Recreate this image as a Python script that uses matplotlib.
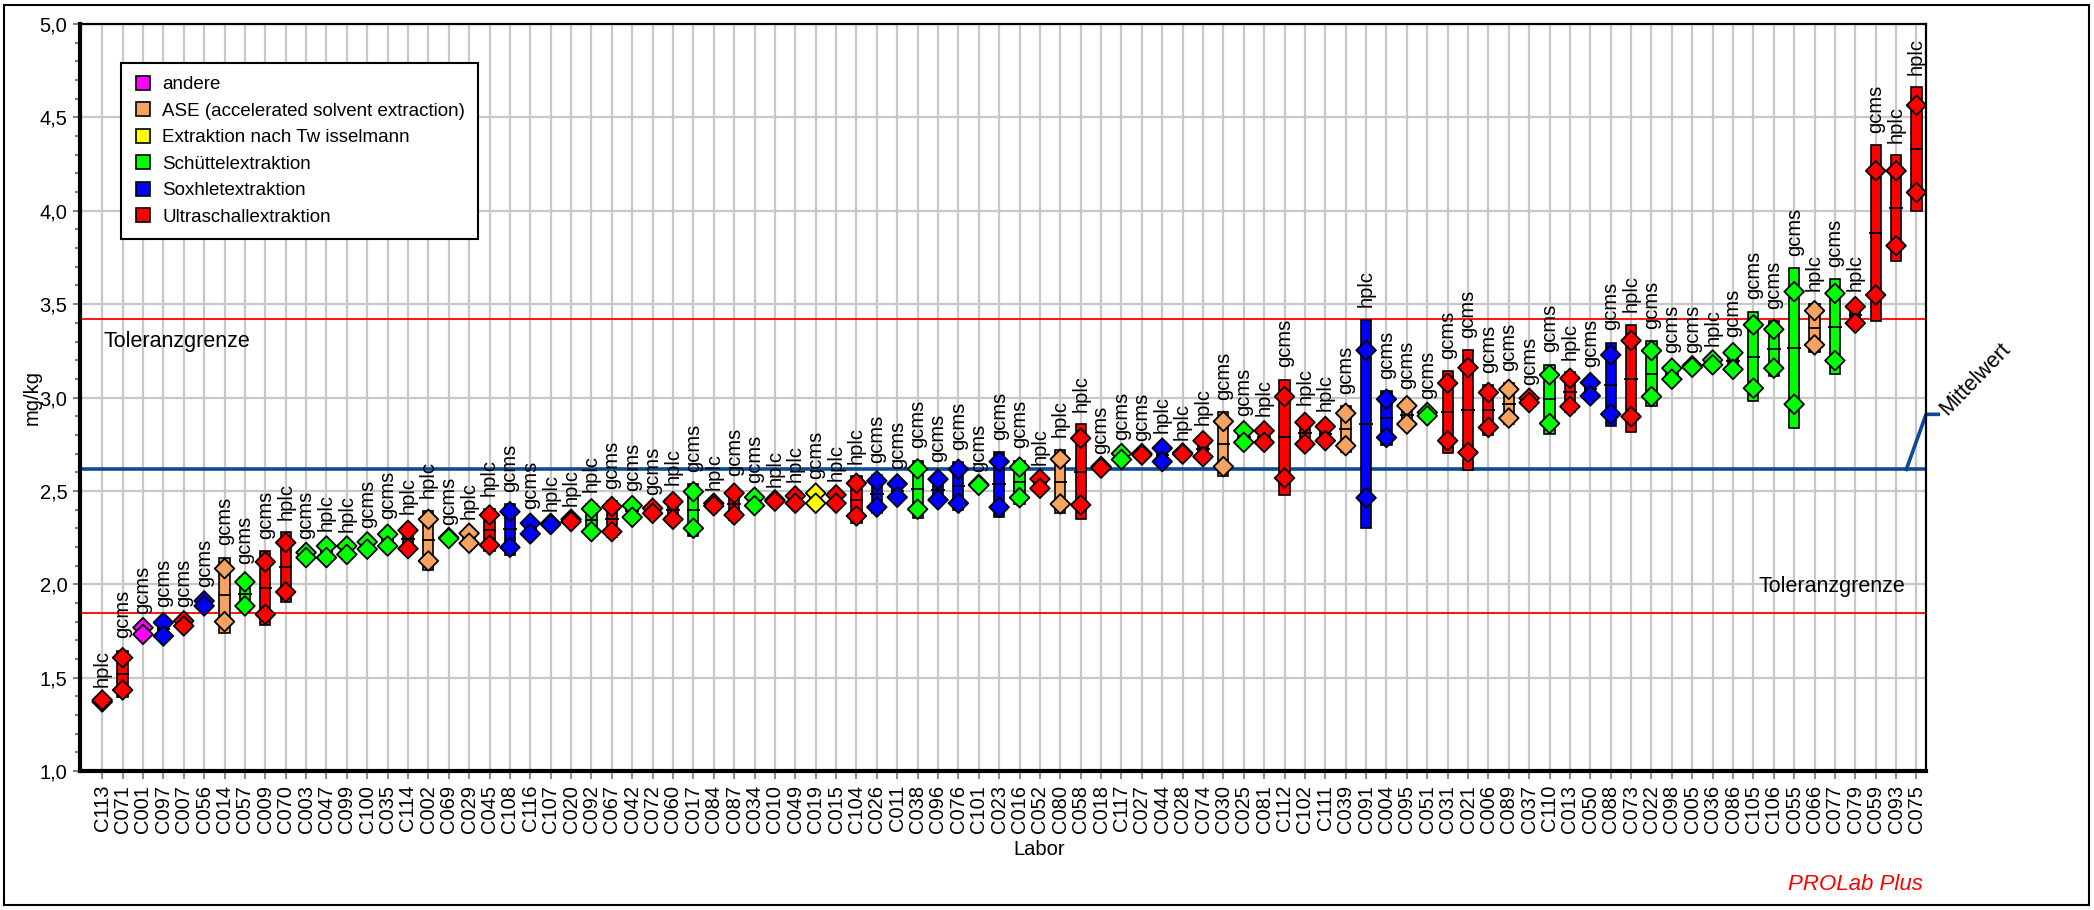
import matplotlib
matplotlib.use('Agg')
import matplotlib.pyplot as plt
import numpy as np
from matplotlib.lines import Line2D
from matplotlib.patches import Rectangle
from matplotlib.ticker import MultipleLocator, FuncFormatter

plt.rcParams['font.family'] = ['Liberation Sans', 'DejaVu Sans']

# Labs, sorted by their mean as in the report
labs = ['C113', 'C071', 'C001', 'C097', 'C007', 'C056', 'C014', 'C057', 'C009', 'C070',
        'C003', 'C047', 'C099', 'C100', 'C035', 'C114', 'C002', 'C069', 'C029', 'C045',
        'C108', 'C116', 'C107', 'C020', 'C092', 'C067', 'C042', 'C072', 'C060', 'C017',
        'C084', 'C087', 'C034', 'C010', 'C049', 'C019', 'C015', 'C104', 'C026', 'C011',
        'C038', 'C096', 'C076', 'C101', 'C023', 'C016', 'C052', 'C080', 'C058', 'C018',
        'C117', 'C027', 'C044', 'C028', 'C074', 'C030', 'C025', 'C081', 'C112', 'C102',
        'C111', 'C039', 'C091', 'C004', 'C095', 'C051', 'C031', 'C021', 'C006', 'C089',
        'C037', 'C110', 'C013', 'C050', 'C088', 'C073', 'C022', 'C098', 'C005', 'C036',
        'C086', 'C105', 'C106', 'C055', 'C066', 'C077', 'C079', 'C059', 'C093', 'C075']

# extraction method per lab
methods = ['US', 'US', 'and', 'Sox', 'US', 'Sox', 'ASE', 'Sch', 'US', 'US',
           'Sch', 'Sch', 'Sch', 'Sch', 'Sch', 'US', 'ASE', 'Sch', 'ASE', 'US',
           'Sox', 'Sox', 'Sox', 'US', 'Sch', 'US', 'Sch', 'US', 'US', 'Sch',
           'US', 'US', 'Sch', 'US', 'US', 'Tw', 'US', 'US', 'Sox', 'Sox',
           'Sch', 'Sox', 'Sox', 'Sch', 'Sox', 'Sch', 'US', 'ASE', 'US', 'US',
           'Sch', 'US', 'Sox', 'US', 'US', 'ASE', 'Sch', 'US', 'US', 'US',
           'US', 'ASE', 'Sox', 'Sox', 'ASE', 'Sch', 'US', 'US', 'US', 'ASE',
           'US', 'Sch', 'US', 'Sox', 'Sox', 'US', 'Sch', 'Sch', 'Sch', 'Sch',
           'Sch', 'Sch', 'Sch', 'Sch', 'ASE', 'Sch', 'US', 'US', 'US', 'US']

# analysis technique per lab
analysis = ['hplc', 'gcms', 'gcms', 'gcms', 'gcms', 'gcms', 'gcms', 'gcms', 'gcms', 'hplc',
            'gcms', 'hplc', 'hplc', 'gcms', 'gcms', 'hplc', 'hplc', 'gcms', 'hplc', 'hplc',
            'gcms', 'gcms', 'hplc', 'hplc', 'hplc', 'gcms', 'gcms', 'gcms', 'hplc', 'gcms',
            'hplc', 'gcms', 'gcms', 'hplc', 'hplc', 'gcms', 'hplc', 'hplc', 'gcms', 'gcms',
            'gcms', 'gcms', 'gcms', 'gcms', 'gcms', 'gcms', 'hplc', 'hplc', 'hplc', 'gcms',
            'gcms', 'gcms', 'hplc', 'hplc', 'hplc', 'gcms', 'gcms', 'hplc', 'gcms', 'hplc',
            'hplc', 'gcms', 'hplc', 'gcms', 'gcms', 'gcms', 'gcms', 'gcms', 'gcms', 'gcms',
            'gcms', 'gcms', 'hplc', 'gcms', 'gcms', 'hplc', 'gcms', 'gcms', 'gcms', 'hplc',
            'gcms', 'gcms', 'gcms', 'gcms', 'hplc', 'gcms', 'hplc', 'gcms', 'hplc', 'hplc']

# two replicate results per lab (mg/kg)
value_1 = [1.370, 1.607, 1.768, 1.795, 1.804, 1.911, 2.084, 2.013, 2.120, 2.223,
           2.170, 2.205, 2.205, 2.227, 2.268, 2.289, 2.348, 2.250, 2.273, 2.371,
           2.389, 2.327, 2.326, 2.348, 2.404, 2.416, 2.421, 2.407, 2.443, 2.496,
           2.434, 2.488, 2.466, 2.452, 2.473, 2.488, 2.479, 2.541, 2.554, 2.538,
           2.618, 2.563, 2.616, 2.535, 2.657, 2.627, 2.564, 2.670, 2.782, 2.630,
           2.700, 2.700, 2.729, 2.703, 2.769, 2.872, 2.822, 2.822, 3.005, 2.867,
           2.845, 2.916, 3.253, 2.991, 2.956, 2.920, 3.077, 3.160, 3.027, 3.044,
           2.996, 3.121, 3.103, 3.080, 3.228, 3.305, 3.251, 3.157, 3.170, 3.201,
           3.240, 3.389, 3.365, 3.567, 3.465, 3.558, 3.487, 4.214, 4.214, 4.565]
value_2 = [1.380, 1.434, 1.732, 1.723, 1.777, 1.884, 1.800, 1.884, 1.839, 1.959,
           2.143, 2.143, 2.160, 2.188, 2.205, 2.191, 2.125, 2.245, 2.220, 2.210,
           2.198, 2.270, 2.320, 2.336, 2.282, 2.282, 2.359, 2.380, 2.348, 2.300,
           2.420, 2.371, 2.421, 2.445, 2.434, 2.434, 2.434, 2.366, 2.413, 2.466,
           2.402, 2.452, 2.434, 2.530, 2.413, 2.464, 2.514, 2.430, 2.425, 2.622,
           2.668, 2.692, 2.657, 2.697, 2.683, 2.630, 2.760, 2.760, 2.569, 2.751,
           2.769, 2.742, 2.463, 2.786, 2.858, 2.902, 2.769, 2.706, 2.840, 2.890,
           2.973, 2.861, 2.952, 3.009, 2.911, 2.898, 3.005, 3.098, 3.162, 3.175,
           3.151, 3.050, 3.157, 2.964, 3.282, 3.198, 3.398, 3.549, 3.813, 4.098]

assigned_mean = 2.615
tol_upper = 3.42
tol_lower = 1.845

method_keys = ['and', 'ASE', 'Tw', 'Sch', 'Sox', 'US']
method_names = ['andere', 'ASE (accelerated solvent extraction)', 'Extraktion nach Tw isselmann',
                'Schüttelextraktion', 'Soxhletextraktion', 'Ultraschallextraktion']
method_colors = ['#FF00FF', '#F4A460', '#FFFF00', '#00FF00', '#0000FF', '#FF0000']
color_of = dict(zip(method_keys, method_colors))

v1 = np.array(value_1)
v2 = np.array(value_2)
x = np.arange(len(labs))
lab_mean = (v1 + v2) / 2
half = np.abs(v1 - v2) / 2 * np.sqrt(2)
lo = lab_mean - half
hi = lab_mean + half
cols = [color_of[m] for m in methods]

fig = plt.figure(figsize=(20.94, 9.10), dpi=100)
ax = fig.add_axes([0.0382, 0.1527, 0.8816, 0.8209])

ax.axhline(tol_upper, color='#FF0000', lw=1.3, zorder=2)
ax.axhline(tol_lower, color='#FF0000', lw=1.3, zorder=2)
mean_col = '#0B4A96'
ax.axhline(assigned_mean, color=mean_col, lw=2.6, zorder=2)

ax.bar(x, hi - lo, bottom=lo, width=0.5, color=cols, edgecolor='black', linewidth=1.2, zorder=3)
ax.hlines(lab_mean, x - 0.33, x + 0.33, color='black', lw=1.3, zorder=4)
for vals in (v1, v2):
    ax.scatter(x, vals, marker='D', s=100, c=cols, edgecolors='black', linewidths=1.3, zorder=5)

for xi, top, txt in zip(x, np.maximum(hi, np.maximum(v1, v2)), analysis):
    ax.annotate(txt, (xi, top), xytext=(0, 9), textcoords='offset points',
                rotation=90, ha='center', va='bottom', fontsize=14.5, zorder=6)

ax.set_xlim(-1.09, 89.47)
ax.set_ylim(1.0, 5.0)
ax.set_xticks(x)
ax.set_xticklabels(labs, rotation=90, fontsize=14.5)
ax.yaxis.set_major_locator(MultipleLocator(0.5))
ax.yaxis.set_minor_locator(MultipleLocator(0.1))
ax.yaxis.set_major_formatter(FuncFormatter(lambda v, p: f'{v:.1f}'.replace('.', ',')))
ax.tick_params(axis='y', labelsize=14.5, length=5, width=1.5, color='#808080', pad=4)
ax.tick_params(axis='y', which='minor', length=3.5, width=1.5, color='#808080')
ax.tick_params(axis='x', length=6, width=1.5, color='#909090', pad=4)
ax.grid(True, which='major', color='#C8C8C8', lw=1.6, zorder=0)
ax.set_axisbelow(True)

for side, lw in (('left', 3.0), ('bottom', 3.0), ('top', 1.6), ('right', 1.6)):
    ax.spines[side].set_linewidth(lw)
    ax.spines[side].set_color('black')

ax.set_ylabel('mg/kg', fontsize=14.5)
ax.yaxis.set_label_coords(-0.0205, 0.5)
ax.set_xlabel('Labor', fontsize=14.5)
ax.xaxis.set_label_coords(0.5195, -0.092)

ax.annotate('Toleranzgrenze', (0.0125, tol_upper), xycoords=('axes fraction', 'data'),
            xytext=(0, -16), textcoords='offset points', ha='left', va='center', fontsize=15.5)
ax.annotate('Toleranzgrenze', (0.9886, tol_lower), xycoords=('axes fraction', 'data'),
            xytext=(0, 19), textcoords='offset points', ha='right', va='center', fontsize=15.5)

# leader line from the mean line to its label outside the axes
x_right = ax.get_xlim()[1]
ax.plot([x_right - 0.97, x_right, x_right + 0.6], [assigned_mean, 2.91, 2.91],
        color=mean_col, lw=2.6, clip_on=False, zorder=2)
fig.text(1947 / 2094, 1 - 416 / 910, 'Mittelwert', rotation=46, rotation_mode='anchor',
         ha='left', va='baseline', fontsize=15.5)

handles = [Line2D([], [], marker='s', ls='none', mfc=c, mec='black', ms=10, mew=1.2)
           for c in method_colors]
leg = ax.legend(handles, method_names, loc='upper left', bbox_to_anchor=(0.0222, 0.948),
                fontsize=13.5, frameon=True, fancybox=False, edgecolor='black', framealpha=1,
                borderaxespad=0, labelspacing=0.5, handletextpad=0.5, handlelength=1.0,
                borderpad=0.7)
leg.get_frame().set_linewidth(1.5)
leg.set_zorder(10)

fig.text(1923 / 2094, 1 - 884 / 910, 'PROLab Plus', ha='right', va='center',
         color='red', style='italic', fontsize=16)

fig.patches.append(Rectangle((4 / 2094, 5 / 910), 2085 / 2094, 900 / 910, transform=fig.transFigure,
                             fill=False, edgecolor='black', lw=1.5))

fig.savefig('out.png', dpi=100)
